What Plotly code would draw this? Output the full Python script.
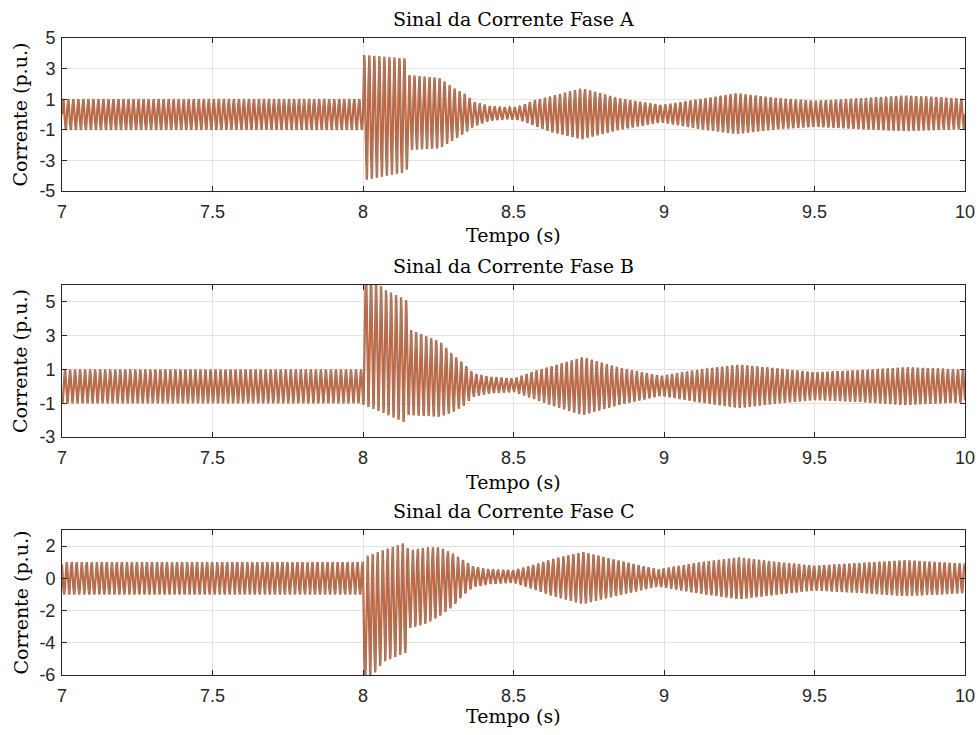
import numpy as np
import plotly.graph_objects as go
from plotly.subplots import make_subplots

# ---- data: envelope knots (time, upper peak, lower peak) ----
freq_hz = 60.0
phase_deg = {"A": 0.0, "B": -120.0, "C": 120.0}

A_t  = [7.0, 7.999, 8.0, 8.145, 8.15, 8.256, 8.30, 8.345, 8.366, 8.42, 8.48, 8.52, 8.565, 8.62, 8.727, 8.85, 8.99, 9.12, 9.24, 9.38, 9.5, 9.65, 9.8, 9.92, 10.0]
A_up = [1, 1, 3.89, 3.65, 2.58, 2.37, 1.73, 1.27, 0.84, 0.55, 0.45, 0.5, 0.9, 1.16, 1.71, 1.06, 0.6, 1.0, 1.38, 1.06, 0.88, 1.05, 1.23, 1.12, 1.01]
A_lo = [-1, -1, -4.3, -3.75, -2.32, -2.2, -1.67, -1.12, -0.8, -0.4, -0.3, -0.35, -0.69, -1.12, -1.62, -1.0, -0.5, -0.95, -1.27, -0.95, -0.8, -0.95, -1.08, -1.0, -0.95]

B_t  = [7.0, 7.999, 8.0, 8.07, 8.145, 8.15, 8.256, 8.30, 8.333, 8.366, 8.42, 8.5, 8.57, 8.63, 8.73, 8.85, 8.99, 9.12, 9.25, 9.38, 9.5, 9.65, 9.8, 9.92, 10.0]
B_up = [1, 1, 7.0, 5.75, 5.1, 3.4, 2.64, 1.85, 1.36, 0.77, 0.55, 0.45, 0.9, 1.2, 1.73, 1.1, 0.6, 1.0, 1.28, 1.05, 0.82, 0.95, 1.12, 1.05, 0.95]
B_lo = [-1, -1, -1.1, -1.6, -2.2, -1.7, -1.8, -1.5, -1.17, -0.61, -0.4, -0.32, -0.75, -1.15, -1.7, -1.1, -0.55, -0.95, -1.28, -1.0, -0.8, -0.92, -1.1, -1.0, -0.95]

C_t  = [7.0, 7.999, 8.0, 8.067, 8.145, 8.15, 8.21, 8.256, 8.30, 8.333, 8.366, 8.42, 8.5, 8.57, 8.63, 8.73, 8.85, 8.98, 9.12, 9.25, 9.38, 9.5, 9.65, 9.8, 9.92, 10.0]
C_up = [1, 1, 1.3, 1.75, 2.25, 1.72, 1.92, 1.92, 1.52, 1.13, 0.73, 0.55, 0.5, 0.85, 1.2, 1.64, 1.1, 0.55, 1.0, 1.3, 1.0, 0.78, 0.95, 1.12, 1.0, 0.9]
C_lo = [-1, -1, -6.8, -5.2, -4.6, -3.12, -2.82, -2.33, -1.73, -1.04, -0.55, -0.35, -0.26, -0.7, -1.1, -1.6, -1.05, -0.5, -0.95, -1.3, -1.0, -0.75, -0.9, -1.1, -1.0, -0.9]

titles = ["Sinal da Corrente Fase A", "Sinal da Corrente Fase B", "Sinal da Corrente Fase C"]
x_ticks = [7, 7.5, 8, 8.5, 9, 9.5, 10]
y_ranges = [[-5, 5], [-3, 6], [-6, 3]]
y_ticks = [[-5, -3, -1, 1, 3, 5], [-3, -1, 1, 3, 5], [-6, -4, -2, 0, 2]]

# ---- build waveforms (60 Hz carrier inside the envelope) ----
t = np.arange(7.0, 10.0 + 1e-9, 1.0 / (freq_hz * 40))

def wave(kt, ku, kl, ph):
    up = np.interp(t, kt, ku)
    lo = np.interp(t, kt, kl)
    mid = (up + lo) / 2
    half = (up - lo) / 2
    return mid + half * np.sin(2 * np.pi * freq_hz * t + np.deg2rad(ph))

signals = [wave(A_t, A_up, A_lo, phase_deg["A"]),
           wave(B_t, B_up, B_lo, phase_deg["B"]),
           wave(C_t, C_up, C_lo, phase_deg["C"])]

fig = make_subplots(rows=3, cols=1)
ORANGE = "#D95319"
GRAY = "#8a8a8a"
for i, y in enumerate(signals):
    fig.add_trace(go.Scatter(x=t, y=y, mode="lines", line=dict(color=ORANGE, width=2.2),
                             showlegend=False, hoverinfo="skip"), row=i + 1, col=1)
    fig.add_trace(go.Scatter(x=t, y=y, mode="lines", line=dict(color=GRAY, width=0.9),
                             showlegend=False, hoverinfo="skip"), row=i + 1, col=1)

W, H = 979, 735
ml, mr, mt, mb = 62, 14, 38, 60
ph = H - mt - mb
panels_px = [(38, 191), (285, 437), (530, 675)]
xtitle_off = [44, 45, 41]
serif = "DejaVu Serif"
sans = "Liberation Sans"
TXT = 19

for i, (top, bot) in enumerate(panels_px):
    dom = [(H - mb - bot) / ph, (H - mb - top) / ph]
    fig.update_yaxes(row=i + 1, col=1, domain=dom, range=y_ranges[i], automargin=False,
                     tickvals=y_ticks[i], ticktext=[str(v) for v in y_ticks[i]],
                     showgrid=True, gridcolor="#e3e3e3", gridwidth=1,
                     zeroline=False, showline=True, linecolor="#262626", linewidth=1,
                     mirror="ticks", ticks="inside", ticklen=5, tickcolor="#262626",
                     ticklabelstandoff=2,
                     tickfont=dict(family=sans, size=18, color="#262626"))
    fig.update_xaxes(row=i + 1, col=1, range=[7, 10], tickvals=x_ticks, automargin=False,
                     ticktext=[f"{v:g}" for v in x_ticks],
                     showgrid=True, gridcolor="#e3e3e3", gridwidth=1,
                     zeroline=False, showline=True, linecolor="#262626", linewidth=1,
                     mirror="ticks", ticks="inside", ticklen=5, tickcolor="#262626",
                     ticklabelstandoff=4,
                     tickfont=dict(family=sans, size=18, color="#262626"))
    fig.add_annotation(text=titles[i], xref="paper", yref="paper", x=0.5, y=dom[1],
                       xanchor="center", yanchor="middle", yshift=19, showarrow=False,
                       font=dict(family=serif, size=TXT, color="#000000"))
    fig.add_annotation(text="Tempo (s)", xref="paper", yref="paper", x=0.5, y=dom[0],
                       xanchor="center", yanchor="middle", yshift=-xtitle_off[i],
                       showarrow=False,
                       font=dict(family=serif, size=TXT, color="#000000"))
    fig.add_annotation(text="Corrente (p.u.)", xref="paper", yref="paper", x=0,
                       y=(dom[0] + dom[1]) / 2, xanchor="center", yanchor="middle",
                       xshift=-42, textangle=-90, showarrow=False,
                       font=dict(family=serif, size=TXT, color="#000000"))

fig.update_layout(width=W, height=H, margin=dict(l=ml, r=mr, t=mt, b=mb),
                  paper_bgcolor="white", plot_bgcolor="white")
fig.write_html("out.html", config={"displayModeBar": False},
               post_script="document.body.style.margin='0';document.body.style.overflow='hidden';")
